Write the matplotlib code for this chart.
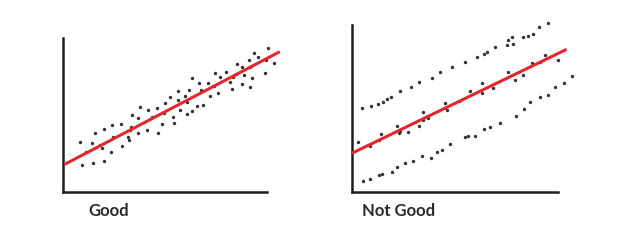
import numpy as np
import matplotlib.pyplot as plt

# Left panel: "Good" fit - points close to the line
good_x = [8.3, 9.5, 15, 20.5, 14.2, 11.3, 18.3, 19.2, 15.8, 20.5, 24.2, 23.7, 25, 28.7,
          29.2, 32.5, 32.8, 33.8, 34.2, 33.3, 37.5, 37.2, 38.3, 42, 42.5, 44.2, 47, 47.5,
          49.2, 50.3, 50.8, 53.3, 55, 55.3, 57.5, 57.5, 58.3, 60.8, 61.7, 62, 63, 64.2,
          64.2, 66.7, 68, 68.7, 70, 72.5, 73.3, 75.5, 75.8, 77.5, 78.3, 81.3, 84.2, 84.7,
          86.7, 86.3, 89.2, 90.5, 93, 93.3, 94.2, 95.3, 97.5, 100.8, 101.3, 102.5, 105.3,
          93.3, 83.3, 89.2]
good_y = [30, 16, 17.4, 18.4, 29.4, 23.6, 28, 26, 35, 37.4, 40, 24, 32.6, 40.4,
          27.4, 32.6, 31, 39, 46, 37, 44, 35, 50.6, 37, 49, 45, 50, 35.4,
          40.6, 47, 53.4, 57, 45, 41.4, 60.6, 55, 49, 57.4, 46.6, 54, 61, 68,
          48.6, 51.4, 65, 61, 52, 65, 57.4, 63.4, 71, 59.4, 69, 72, 61.4, 69,
          76.6, 70.6, 64.6, 70, 79, 63, 68, 83, 81, 71, 79, 86, 77,
          75, 66, 75]
good_line_x = [0.5, 108.3]
good_line_y = [16.3, 84]

# Right panel: "Not Good" fit - three separate bands
bad_x = [4.7, 9.3, 13, 15.2, 17.2, 19.2, 23.8, 29.3, 33.3, 39.7, 43.8, 49.7, 56.3, 62.2,
         65.8, 67.2, 71.3, 77.2, 78, 79.7, 80.2, 85.2, 88, 90.2, 93.5, 98,
         2.7, 8.8, 13.5, 14.2, 22.5, 23.8, 23.5, 28, 33.5, 35.2, 38, 35.5, 46.3, 47.2,
         53.3, 58.8, 64.7, 64.7, 70.5, 78, 81.3, 85.5, 89.7, 93.8, 96.3, 103,
         5.2, 8.8, 13.5, 14.7, 19.7, 22.2, 26.3, 30.5, 34.7, 39.2, 42.2, 44.7, 48.8,
         56.3, 58, 61.3, 65.8, 68.8, 73.8, 81.8, 86, 88.8, 93.8, 98, 101.3, 105.8, 109.7]
bad_y = [50.4, 51.4, 52.6, 54, 55.4, 56.6, 60.6, 63, 66, 68, 72, 74.6, 78, 81,
         82.6, 83.6, 86.6, 88, 91, 92.6, 88.6, 93, 93.4, 94.6, 99, 101.4,
         29.6, 27.6, 31, 34.6, 39.4, 36.6, 35, 36, 39.6, 47.6, 44, 43, 53.4, 49,
         54.6, 60.6, 65.4, 59.4, 62.4, 72, 67, 70, 77, 78, 82, 79,
         6.4, 7.6, 10, 10.4, 12, 15, 17, 18.4, 21.6, 20, 24, 25, 28.6,
         32.6, 33.4, 33.6, 37.4, 39, 41.4, 45.4, 49.4, 54, 56.6, 58, 62.6, 65.4, 69.6]
bad_line_x = [-0.3, 107.2]
bad_line_y = [23, 85.4]

labels = ['Good', 'Not Good']

fig = plt.figure(figsize=(6.22, 2.44), dpi=100)

ax1 = fig.add_axes([60/622, 1 - 195/244, 225/622, 165/244])
ax2 = fig.add_axes([349/622, 1 - 195/244, 229/622, 180/244])

panels = [(ax1, good_x, good_y, good_line_x, good_line_y, (-1.7, 110.9), (-2, 97), 92, 101.7),
          (ax2, bad_x, bad_y, bad_line_x, bad_line_y, (-1.7, 112.9), (-2, 106), 100, 103)]

for ax, x, y, lx, ly, xl, yl, ytop, xend in panels:
    ax.scatter(x, y, s=6, color='#333333', zorder=2, linewidths=0)
    ax.plot(lx, ly, color='#e3262b', lw=2.2, zorder=3, solid_capstyle='butt')
    ax.set_xlim(xl)
    ax.set_ylim(yl)
    for s in ['top', 'right']:
        ax.spines[s].set_visible(False)
    for s in ['left', 'bottom']:
        ax.spines[s].set_position(('data', 0))
        ax.spines[s].set_linewidth(1.8)
        ax.spines[s].set_color('#1e1e1e')
    ax.spines['left'].set_bounds(0, ytop)
    ax.spines['bottom'].set_bounds(0, xend)
    ax.set_xticks([])
    ax.set_yticks([])
    ax.patch.set_alpha(0)

fig.text(88/622, 1 - 211/244, labels[0], fontsize=12, fontweight='bold',
         family='Lato', color='#2a2a2a', va='center', ha='left')
fig.text(362/622, 1 - 211/244, labels[1], fontsize=12, fontweight='bold',
         family='Lato', color='#2a2a2a', va='center', ha='left')

fig.savefig('out.png', dpi=100)
